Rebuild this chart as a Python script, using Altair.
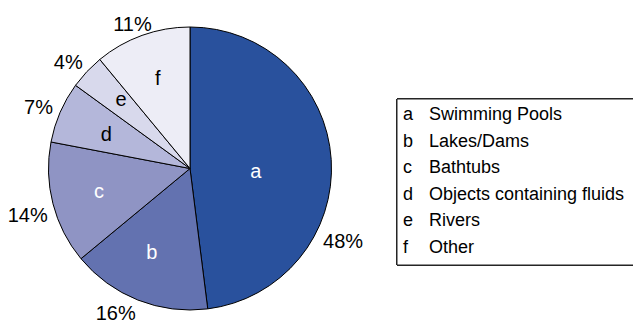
import altair as alt
import pandas as pd

# Drowning locations (share of cases, %)
letters = ["a", "b", "c", "d", "e", "f"]
causes = ["Swimming Pools", "Lakes/Dams", "Bathtubs",
          "Objects containing fluids", "Rivers", "Other"]
shares = [48, 16, 14, 7, 4, 11]
colors = ["#29519d", "#6372b0", "#8f94c4", "#b4b7da", "#d8d9ec", "#ededf6"]

df = pd.DataFrame({
    "letter": letters,
    "cause": causes,
    "share": shares,
    "rank": list(range(len(letters))),
})
df["pct"] = [f"{v}%" for v in shares]

# Layout
W, H = 633, 322
CX, CY, R = 190, 168.5, 141.5
FONT = "Liberation Sans"
DEG = 3.141592653589793 / 180

# Key box (runs past the right edge) and its two text columns
KEY_LEFT, KEY_RIGHT, KEY_TOP, KEY_BOTTOM = 397, 645, 99, 265
KEY_FIRST_ROW, KEY_LAST_ROW = 115, 248
KEY_LETTER_X, KEY_NAME_X = 403, 429

# Label placement per slice: (radius in px, angular nudge from slice middle in degrees)
inner_place = {"a": (66, 7), "b": (93, 2.7), "c": (94, 0),
               "d": (90, -1.7), "e": (97, 1.5), "f": (95, 0)}
outer_place = {"a": (170, 29.4), "b": (163, 5.5), "c": (169, -1.8),
               "d": (163, -1.7), "e": (161, -2.3), "f": (155, -2.0)}

base = alt.Chart(df).encode(
    theta=alt.Theta("share:Q", stack=True),
    order=alt.Order("rank:Q"),
)

arcs = base.mark_arc(
    x=CX, y=CY, radius=R, stroke="black", strokeWidth=1
).encode(
    color=alt.Color(
        "letter:N",
        scale=alt.Scale(domain=letters, range=colors),
        legend=None,
    )
)

letter_fill = alt.condition("datum.rank < 3", alt.value("white"), alt.value("black"))

layers = [arcs]
for l in letters:
    own = f"datum.letter == '{l}'"
    r_in, d_in = inner_place[l]
    layers.append(
        base.mark_text(x=CX, y=CY, radius=r_in, thetaOffset=d_in * DEG,
                       font=FONT, fontSize=20).encode(
            text=alt.condition(own, alt.Text("letter:N"), alt.value("")),
            fill=letter_fill,
        )
    )
    r_out, d_out = outer_place[l]
    layers.append(
        base.mark_text(x=CX, y=CY, radius=r_out, thetaOffset=d_out * DEG,
                       font=FONT, fontSize=20, color="black").encode(
            text=alt.condition(own, alt.Text("pct:N"), alt.value("")),
        )
    )

# Key: framed box listing each letter with its description
key_box = alt.Chart(df).mark_rect(
    fill="white", stroke="#222222", strokeWidth=1
).encode(
    x=alt.value(KEY_LEFT), x2=alt.value(KEY_RIGHT),
    y=alt.value(KEY_TOP), y2=alt.value(KEY_BOTTOM),
)
row_y = alt.Y(
    "letter:N",
    scale=alt.Scale(type="point", domain=letters,
                    range=[KEY_FIRST_ROW, KEY_LAST_ROW], padding=0),
    axis=None,
)
key_letters = alt.Chart(df).mark_text(
    align="left", baseline="middle", font=FONT, fontSize=18, color="black"
).encode(x=alt.value(KEY_LETTER_X), y=row_y, text="letter:N")
key_names = alt.Chart(df).mark_text(
    align="left", baseline="middle", font=FONT, fontSize=18, color="black"
).encode(x=alt.value(KEY_NAME_X), y=row_y, text="cause:N")

layers += [key_box, key_letters, key_names]

chart = (
    alt.layer(*layers)
    .properties(width=W, height=H, padding=0,
                autosize=alt.AutoSizeParams(type="none"))
    .configure_view(stroke=None)
)

chart.save("out.html", embed_options={"renderer": "svg", "actions": False})
